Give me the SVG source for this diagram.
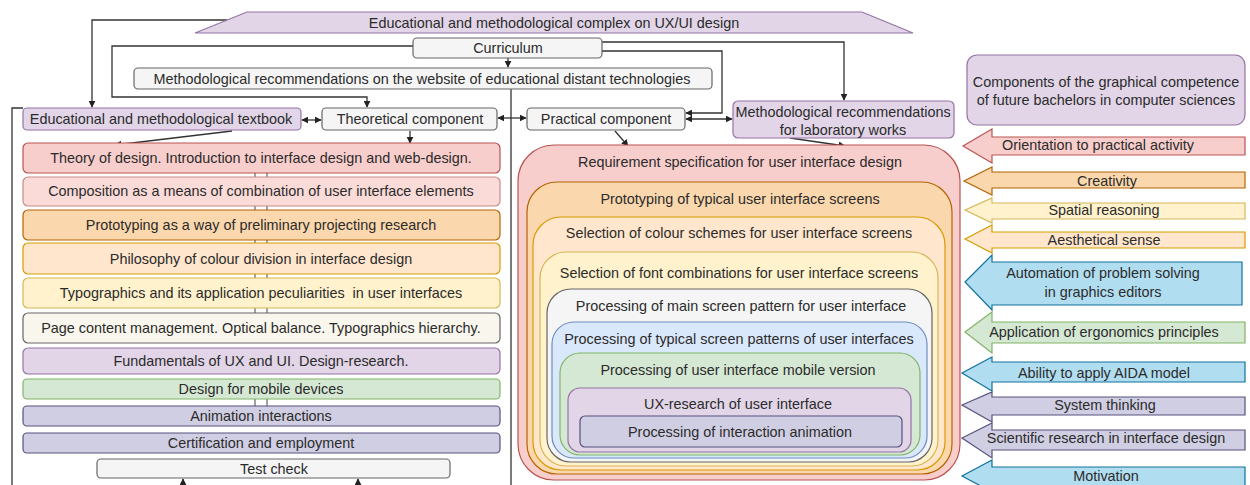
<svg xmlns="http://www.w3.org/2000/svg" width="1250" height="485" viewBox="0 0 1250 485">
  <style>
    text { font-family: "Liberation Sans", Arial, sans-serif; font-size: 14.4px; fill: #2b2b2b; text-anchor: middle; dominant-baseline: central; }
    .gray { fill: #f5f5f5; stroke: #666; stroke-width: 1.2; }
    .pink { fill: #f8cecc; stroke: #b85450; stroke-width: 1.2; }
    .pink2 { fill: #fadbd8; stroke: #c98a86; stroke-width: 1.2; }
    .orange { fill: #fad7ac; stroke: #b46504; stroke-width: 1.2; }
    .peach { fill: #ffe6cc; stroke: #d79b00; stroke-width: 1.2; }
    .yellow { fill: #fff2cc; stroke: #d6b656; stroke-width: 1.2; }
    .cream { fill: #f9f7ed; stroke: #666; stroke-width: 1.2; }
    .purple { fill: #e1d5e7; stroke: #9673a6; stroke-width: 1.2; }
    .green { fill: #d5e8d4; stroke: #82b366; stroke-width: 1.2; }
    .blue { fill: #dae8fc; stroke: #6c8ebf; stroke-width: 1.2; }
    .sky { fill: #b1ddf0; stroke: #10739e; stroke-width: 1.2; }
    .lav { fill: #d0cee2; stroke: #56517e; stroke-width: 1.2; }
    .edge { fill: none; stroke: #333; stroke-width: 1.3; }
    .tick { fill: none; stroke: #444; stroke-width: 1; }
  </style>
  <defs>
    <marker id="arrow" viewBox="0 0 10 10" refX="9" refY="5" markerWidth="7" markerHeight="7" markerUnits="userSpaceOnUse" orient="auto-start-reverse">
      <path d="M0,0 L10,5 L0,10 Z" fill="#222"/>
    </marker>
  </defs>
  <rect width="1250" height="485" fill="#ffffff"/>

  <!-- connectors -->
  <g id="connectors">
    <polyline class="edge" points="227,20 92,20 92,107" marker-end="url(#arrow)"/>
    <polyline class="edge" points="413,46 112,46 112,97 367,97 367,107" marker-end="url(#arrow)"/>
    <line class="edge" x1="508" y1="58" x2="508" y2="67" marker-end="url(#arrow)"/>
    <polyline class="edge" points="602,42 844,42 844,100" marker-end="url(#arrow)"/>
    <polyline class="edge" points="602,51 722,51 722,113 686,113" marker-end="url(#arrow)"/>
    <line class="edge" x1="511" y1="89" x2="511" y2="485"/>
    <polyline class="edge" points="23,108 12,108 12,485"/>
    <line class="edge" x1="302" y1="120" x2="321" y2="120" marker-start="url(#arrow)" marker-end="url(#arrow)"/>
    <line class="edge" x1="498" y1="118" x2="526" y2="118" marker-start="url(#arrow)" marker-end="url(#arrow)"/>
    <line class="edge" x1="686" y1="119" x2="732" y2="119" marker-start="url(#arrow)" marker-end="url(#arrow)"/>
    <line class="edge" x1="232" y1="131" x2="115" y2="145" marker-end="url(#arrow)"/>
    <line class="edge" x1="410" y1="131" x2="410" y2="143" marker-end="url(#arrow)"/>
    <line class="edge" x1="615" y1="131" x2="628" y2="146" marker-end="url(#arrow)"/>
    <line class="edge" x1="790" y1="138" x2="845" y2="146" marker-end="url(#arrow)"/>
    <line class="edge" x1="183" y1="486" x2="183" y2="479" marker-end="url(#arrow)"/>
    <line class="edge" x1="358" y1="486" x2="358" y2="479" marker-end="url(#arrow)"/>
    <!-- short stubs between stacked course modules -->
    <path class="tick" d="M255,173 V177 M267,173 V177 M255,206 V210 M267,206 V210 M255,240 V243 M267,240 V243 M255,274 V278 M267,274 V278 M255,308 V313 M267,308 V313 M255,399 V406 M267,399 V406 M267,433 V441"/>
  </g>

  <!-- top banner -->
  <g id="complex">
    <polygon class="purple" points="247,12 862,12 913,33 195,33"/>
    <text x="554" y="23">Educational and methodological complex on UX/UI design</text>
  </g>

  <g id="curriculum">
    <rect class="gray" x="413" y="38" width="189" height="20" rx="4"/>
    <text x="508" y="48">Curriculum</text>
  </g>

  <g id="website">
    <rect class="gray" x="134" y="68" width="578" height="21" rx="4"/>
    <text x="422" y="79">Methodological recommendations on the website of educational distant technologies</text>
  </g>

  <g id="textbook">
    <rect class="purple" x="23" y="108" width="278" height="22" rx="4"/>
    <text x="161" y="119">Educational and methodological textbook</text>
  </g>

  <g id="theoretical">
    <rect class="gray" x="322" y="108" width="175" height="22" rx="4"/>
    <text x="410" y="119">Theoretical component</text>
  </g>

  <g id="practical">
    <rect class="gray" x="527" y="108" width="158" height="22" rx="4"/>
    <text x="606" y="119">Practical component</text>
  </g>

  <g id="lab">
    <rect class="purple" x="733" y="101" width="221" height="37" rx="5"/>
    <text x="843" y="112">Methodological recommendations</text>
    <text x="843" y="130">for laboratory works</text>
  </g>

  <!-- theoretical modules -->
  <g id="m1"><rect class="pink" x="23" y="143" width="477" height="30" rx="5"/><text x="261" y="158">Theory of design. Introduction to interface design and web-design.</text></g>
  <g id="m2"><rect class="pink2" x="23" y="177" width="477" height="29" rx="5"/><text x="261" y="191">Composition as a means of combination of user interface elements</text></g>
  <g id="m3"><rect class="orange" x="23" y="210" width="477" height="30" rx="5"/><text x="261" y="225">Prototyping as a way of preliminary projecting research</text></g>
  <g id="m4"><rect class="peach" x="23" y="243" width="477" height="31" rx="5"/><text x="261" y="259">Philosophy of colour division in interface design</text></g>
  <g id="m5"><rect class="yellow" x="23" y="278" width="477" height="30" rx="5"/><text x="261" y="293" xml:space="preserve">Typographics and its application peculiarities  in user interfaces</text></g>
  <g id="m6"><rect class="cream" x="23" y="313" width="477" height="30" rx="5"/><text x="261" y="328">Page content management. Optical balance. Typographics hierarchy.</text></g>
  <g id="m7"><rect class="purple" x="23" y="348" width="477" height="26" rx="5"/><text x="261" y="361">Fundamentals of UX and UI. Design-research.</text></g>
  <g id="m8"><rect class="green" x="23" y="379" width="477" height="20" rx="4"/><text x="261" y="389">Design for mobile devices</text></g>
  <g id="m9"><rect class="lav" x="23" y="406" width="477" height="20" rx="4"/><text x="261" y="416">Animation interactions</text></g>
  <g id="m10"><rect class="lav" x="23" y="433" width="477" height="20" rx="4"/><text x="261" y="443">Certification and employment</text></g>
  <g id="test"><rect class="gray" x="97" y="459" width="353" height="19" rx="4"/><text x="274" y="469">Test check</text></g>

  <!-- practical tasks, nested -->
  <g id="p1"><rect class="pink" x="518" y="145" width="442" height="335" rx="36"/><text x="740" y="162">Requirement specification for user interface design</text></g>
  <g id="p2"><rect class="orange" x="527" y="182" width="425" height="292" rx="30"/><text x="740" y="199">Prototyping of typical user interface screens</text></g>
  <g id="p3"><rect class="peach" x="533" y="217" width="412" height="253" rx="28"/><text x="739" y="233">Selection of colour schemes for user interface screens</text></g>
  <g id="p4"><rect class="yellow" x="540" y="252" width="398" height="214" rx="26"/><text x="739" y="273">Selection of font combinations for user interface screens</text></g>
  <g id="p5"><rect class="gray" x="547" y="289" width="385" height="173" rx="24"/><text x="741" y="306">Processing of main screen pattern for user interface</text></g>
  <g id="p6"><rect class="blue" x="552" y="322" width="375" height="136" rx="22"/><text x="739" y="339">Processing of typical screen patterns of user interfaces</text></g>
  <g id="p7"><rect class="green" x="560" y="353" width="360" height="102" rx="20"/><text x="738" y="370">Processing of user interface mobile version</text></g>
  <g id="p8"><rect class="purple" x="568" y="388" width="343" height="64" rx="12"/><text x="738" y="404">UX-research of user interface</text></g>
  <g id="p9"><rect class="lav" x="580" y="416" width="322" height="31" rx="5"/><text x="740" y="432">Processing of interaction animation</text></g>

  <!-- competence components -->
  <g id="components">
    <rect class="purple" x="967" y="55" width="278" height="70" rx="10"/>
    <text x="1106" y="82">Components of the graphical competence</text>
    <text x="1106" y="100">of future bachelors in computer sciences</text>
  </g>

  <g id="c1"><polygon class="pink" points="1245,137 992,137 992,129 963,146 992,163 992,155 1245,155"/><text x="1098" y="145">Orientation to practical activity</text></g>
  <g id="c2"><polygon class="orange" points="1245,172 992,172 992,167 964,181 992,195 992,188 1245,188"/><text x="1107" y="181">Creativity</text></g>
  <g id="c3"><polygon class="yellow" points="1245,203 992,203 992,198 965,210 992,223 992,219 1245,219"/><text x="1104" y="210">Spatial reasoning</text></g>
  <g id="c4"><polygon class="peach" points="1245,232 992,232 992,225 965,239 992,253 992,248 1245,248"/><text x="1104" y="240">Aesthetical sense</text></g>
  <g id="c5"><polygon class="sky" points="1242,262 992,262 992,255 965,282 992,310 992,305 1242,305"/><text x="1103" y="273">Automation of problem solving</text><text x="1103" y="292">in graphics editors</text></g>
  <g id="c6"><polygon class="green" points="1245,322 992,322 992,312 965,332 992,353 992,343 1245,343"/><text x="1104" y="332">Application of ergonomics principles</text></g>
  <g id="c7"><polygon class="sky" points="1245,362 992,362 992,357 962,373 992,391 992,382 1245,382"/><text x="1104" y="373">Ability to apply AIDA model</text></g>
  <g id="c8"><polygon class="lav" points="1245,397 992,397 992,392 962,405 992,422 992,415 1245,415"/><text x="1105" y="405">System thinking</text></g>
  <g id="c9"><polygon class="lav" points="1245,430 992,430 992,423 962,438 992,458 992,450 1245,450"/><text x="1106" y="438">Scientific research in interface design</text></g>
  <g id="c10"><polygon class="sky" points="1245,467 992,467 992,460 962,476 992,492 992,490 1245,490"/><text x="1106" y="476">Motivation</text></g>
</svg>
